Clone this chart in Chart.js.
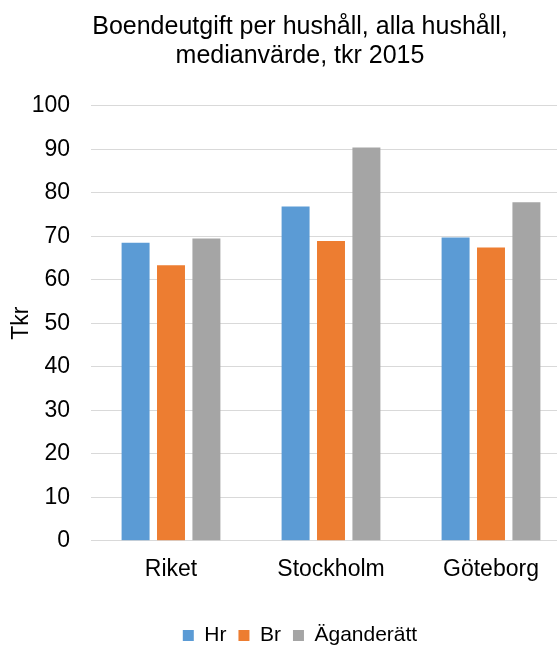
<!DOCTYPE html>
<html lang="sv">
<head>
<meta charset="utf-8">
<title>Boendeutgift per hushåll</title>
<script src="https://cdn.jsdelivr.net/npm/chart.js@4/dist/chart.umd.min.js"></script>
<style>
  html, body { margin: 0; padding: 0; background: #fff; overflow: hidden; }
  #wrap { width: 600px; height: 656px; }
</style>
</head>
<body>
<div id="wrap"><canvas id="diagram" width="600" height="656"></canvas></div>
<script>
// Data (tkr)
const kategorier = ["Riket", "Stockholm", "Göteborg"];
const hyresratt = [68.5, 76.8, 69.7];
const bostadsratt = [63.3, 68.9, 67.4];
const aganderatt = [69.5, 90.4, 77.8];
const serieNamn = ["Hr", "Br", "Äganderätt"];
const farger = ["#5B9BD5", "#ED7D31", "#A5A5A5"];

const typsnitt = "'Liberation Sans', Arial, sans-serif";
const textFarg = "#000000";
const rutnat = "#D9D9D9";

const config = {
  type: "bar",
  data: {
    labels: kategorier,
    datasets: [hyresratt, bostadsratt, aganderatt].map((varden, i) => ({
      label: serieNamn[i],
      data: varden,
      backgroundColor: farger[i],
      borderWidth: 0,
      categoryPercentage: 0.664,
      barPercentage: 0.79
    }))
  },
  options: {
    responsive: false,
    animation: false,
    layout: { padding: 0 },
    plugins: {
      title: {
        display: true,
        text: ["Boendeutgift per hushåll, alla hushåll,", "medianvärde, tkr 2015"],
        color: textFarg,
        font: { family: typsnitt, size: 25, weight: "normal", lineHeight: 1.15 },
        padding: { top: 13, bottom: 35.2 }
      },
      legend: {
        position: "bottom",
        labels: {
          boxWidth: 11,
          boxHeight: 11,
          padding: 12,
          color: textFarg,
          font: { family: typsnitt, size: 21 }
        }
      },
      tooltip: { enabled: false }
    },
    scales: {
      x: {
        grid: { display: false, drawTicks: false },
        border: { display: true, color: rutnat, width: 1 },
        ticks: {
          color: textFarg,
          padding: 15.5,
          font: { family: typsnitt, size: 23 }
        },
        afterFit: s => { s.height = 72.3; }
      },
      y: {
        min: 0,
        max: 100,
        border: { display: false },
        grid: { color: rutnat, lineWidth: 1, drawTicks: false },
        ticks: {
          stepSize: 10,
          color: textFarg,
          padding: 21,
          font: { family: typsnitt, size: 23 }
        },
        title: {
          display: true,
          text: "Tkr",
          color: textFarg,
          font: { family: typsnitt, size: 23 },
          padding: { top: 8, bottom: 0 }
        },
        afterFit: s => { s.width = 91; }
      },
      // tom axel till höger, bara för att lämna plats så att rubriken hamnar rätt
      hoger: {
        type: "linear",
        axis: "y",
        position: "right",
        display: true,
        grid: { display: false },
        border: { display: false },
        ticks: { display: false },
        afterFit: s => { s.width = 29; }
      }
    }
  }
};

new Chart(document.getElementById("diagram").getContext("2d"), config);
</script>
</body>
</html>
